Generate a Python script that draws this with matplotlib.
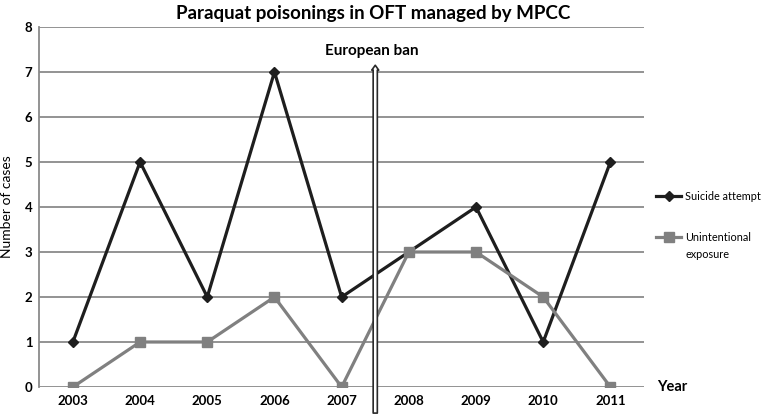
import matplotlib
matplotlib.use("Agg")
import matplotlib.pyplot as plt
from matplotlib.lines import Line2D

years = ["2003", "2004", "2005", "2006", "2007", "2008", "2009", "2010", "2011"]
suicide = [1, 5, 2, 7, 2, 3, 4, 1, 5]
unintentional = [0, 1, 1, 2, 0, 3, 3, 2, 0]
yticks = [0, 1, 2, 3, 4, 5, 6, 7, 8]

plt.rcParams['font.family'] = ['Lato', 'DejaVu Sans']

W, H = 761, 419
fig = plt.figure(figsize=(W / 100, H / 100), dpi=100)
ax = fig.add_axes([39.3 / W, (H - 387) / H, (644 - 39.3) / W, 360 / H])

x = list(range(len(years)))
grid_c = '#8a8a8a'
dark = '#1e1e1e'
gray = '#808080'
for v in yticks:
    ax.axhline(v, color=grid_c, lw=1.3, zorder=1)

ax.plot(x, suicide, color=dark, lw=2.3, marker='D', ms=5, zorder=3)
ax.plot(x, unintentional, color=gray, lw=2.3, marker='s', ms=7, zorder=3)

ax.set_xlim(-0.5, len(years) - 0.5)
ax.set_ylim(0, 8)
ax.set_xticks(x)
ax.set_xticklabels(years, fontweight='bold', fontsize=9.5)
ax.set_yticks(yticks)
ax.set_yticklabels([str(v) for v in yticks], fontweight='bold', fontsize=9.5)
ax.tick_params(axis='both', length=0, pad=6)
ax.tick_params(axis='y', pad=5)
for s in ['top', 'right', 'bottom']:
    ax.spines[s].set_visible(False)
ax.spines['left'].set_color(grid_c)
ax.spines['left'].set_linewidth(1.3)

fig.text(373 / W, 1 - 13 / H, 'Paraquat poisonings in OFT managed by MPCC',
         ha='center', va='center', fontweight='bold', fontsize=13.5)
ax.set_ylabel('Number of cases', fontsize=10, labelpad=8)

# European ban arrow
ax.annotate('', xy=(4.5, 7.15), xytext=(4.5, -0.58), annotation_clip=False,
            arrowprops=dict(arrowstyle='simple,head_width=0.5,head_length=0.35,tail_width=0.3',
                            fc='white', ec='#2a2a2a', lw=1.2, shrinkA=0, shrinkB=0),
            zorder=5)
ax.text(4.45, 7.47, 'European ban', ha='center', va='center', fontweight='bold',
        fontsize=11)

ax.text(len(years) - 0.5 + 0.2, 0, 'Year', ha='left', va='center',
        fontweight='bold', fontsize=10.5, clip_on=False)

# Legend (Excel style: handle aligned with first line of label)
def fy(py):
    return 1 - py / H

entries = [
    (dark, 'D', 5, 196, ['Suicide attempt']),
    (gray, 's', 7, 237, ['Unintentional', 'exposure']),
]
for col, mk, ms, py, lines in entries:
    fig.add_artist(Line2D([656 / W, 681 / W], [fy(py), fy(py)], color=col, lw=2.3,
                          transform=fig.transFigure))
    fig.add_artist(Line2D([668.5 / W], [fy(py)], color=col, marker=mk, ms=ms,
                          transform=fig.transFigure))
    for i, line in enumerate(lines):
        fig.text(685 / W, fy(py + i * 17), line, ha='left', va='center',
                 fontsize=7.8)

fig.savefig('out.png', dpi=100)
